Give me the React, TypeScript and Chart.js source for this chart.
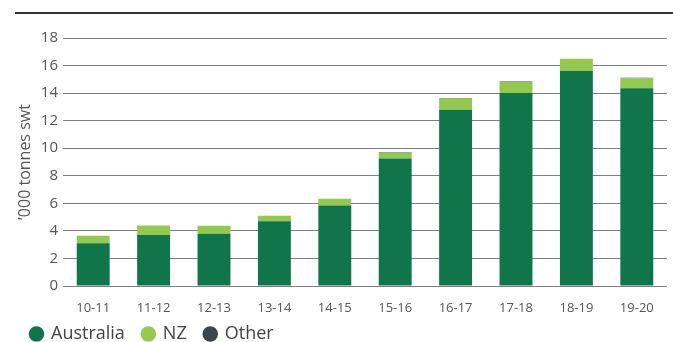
import React, { useEffect, useRef } from "react";
import { Chart, registerables } from "chart.js";

Chart.register(...registerables);

const categories = ["10-11", "11-12", "12-13", "13-14", "14-15", "15-16", "16-17", "17-18", "18-19", "19-20"];
const australia = [3.1, 3.7, 3.8, 4.7, 5.85, 9.25, 12.8, 14.0, 15.6, 14.35];
const nz = [0.55, 0.7, 0.58, 0.4, 0.48, 0.42, 0.8, 0.8, 0.9, 0.72];
const other = [0, 0, 0, 0, 0, 0.04, 0.04, 0.04, 0, 0.04];
const yTicks = [0, 2, 4, 6, 8, 10, 12, 14, 16, 18];

const FONT = "'Open Sans', sans-serif";

const legendShift = {
  id: "legendShift",
  afterLayout(chart: any) {
    if (chart.legend) {
      chart.legend.top -= 9;
    }
  },
};

export default function App() {
  const ref = useRef<HTMLCanvasElement | null>(null);

  useEffect(() => {
    if (!ref.current) return;
    const chart = new Chart(ref.current, {
      type: "bar",
      data: {
        labels: categories,
        datasets: [
          { label: "Australia", data: australia, backgroundColor: "#10754b", barPercentage: 0.545, categoryPercentage: 1 },
          { label: "NZ", data: nz, backgroundColor: "#93c94d", barPercentage: 0.545, categoryPercentage: 1 },
          { label: "Other", data: other, backgroundColor: "#3d444b", barPercentage: 0.545, categoryPercentage: 1 },
        ],
      },
      plugins: [legendShift],
      options: {
        animation: false,
        responsive: false,
        maintainAspectRatio: false,
        layout: { padding: { left: 13, right: 6, top: 38, bottom: 0 } },
        plugins: {
          tooltip: { enabled: false },
          legend: {
            position: "bottom",
            align: "start",
            maxHeight: 26,
            labels: {
              usePointStyle: true,
              pointStyle: "circle",
              boxWidth: 11,
              boxHeight: 11,
              padding: 18,
              color: "#444",
              font: { family: FONT, size: 18 },
            },
          },
        },
        scales: {
          x: {
            stacked: true,
            afterFit: (axis: any) => {
              axis.height = 30;
            },
            grid: { display: false },
            border: { display: false },
            ticks: { color: "#555", font: { family: FONT, size: 13 }, padding: 6, maxRotation: 0 },
          },
          y: {
            stacked: true,
            min: 0,
            max: 18,
            afterBuildTicks: (axis: any) => {
              axis.ticks = yTicks.map((v) => ({ value: v }));
            },
            afterFit: (axis: any) => {
              axis.width = 50;
            },
            grid: { color: "#7f7f7f", lineWidth: 1, drawTicks: false },
            border: { display: false },
            ticks: { color: "#555", font: { family: FONT, size: 15 }, padding: 5 },
            title: {
              display: true,
              text: "\u2019000 tonnes swt",
              color: "#555",
              font: { family: FONT, size: 16 },
              padding: { top: 3, bottom: 0 },
            },
          },
        },
      },
    });
    return () => chart.destroy();
  }, []);

  return (
    <div style={{ position: "fixed", left: 0, top: 0, width: 673, height: 342, background: "#fff" }}>
      <div style={{ position: "absolute", left: 15, top: 12, width: 658, height: 2, background: "#333" }} />
      <canvas ref={ref} width={673} height={342} style={{ position: "absolute", left: 0, top: 0 }} />
    </div>
  );
}
